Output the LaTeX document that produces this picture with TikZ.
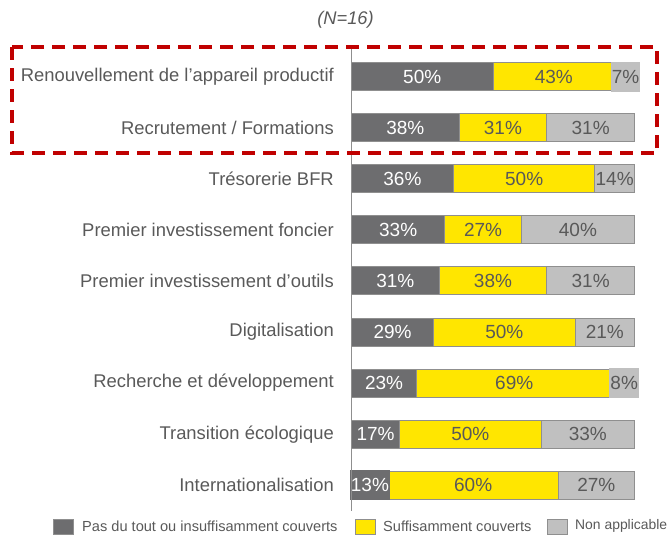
\documentclass[tikz,border=0pt]{standalone}
\usepackage{fontspec}
\setmainfont{Liberation Sans}
\definecolor{dk}{HTML}{6D6D6F}
\definecolor{ye}{HTML}{FFE600}
\definecolor{lg}{HTML}{C0C0C0}
\definecolor{bd}{HTML}{8F8F8F}
\definecolor{tx}{HTML}{595959}
\definecolor{rd}{HTML}{C00000}
\begin{document}
\begin{tikzpicture}[x=1pt,y=-1pt,
  seg/.style={draw=bd, line width=0.9pt, minimum height=28pt, inner sep=0pt, outer sep=0pt, anchor=west},
  lbl/.style={text=tx, font=\fontsize{18.4}{21}\selectfont, inner sep=0pt, anchor=east},
  pw/.style={text=white, font=\fontsize{19}{21}\selectfont, inner xsep=1pt, inner ysep=0pt},
  pg/.style={text=tx, font=\fontsize{19}{21}\selectfont, inner xsep=1pt, inner ysep=0pt},
  legsq/.style={draw=bd, line width=0.9pt, minimum width=20pt, minimum height=15pt, inner sep=0pt, anchor=west},
  legtx/.style={text=tx, font=\fontsize{14.6}{16}\selectfont, inner sep=0pt, anchor=west}]
\useasboundingbox (0,0) rectangle (669,536);
\node[text=tx, font=\fontsize{18.3}{21}\selectfont\itshape] (n) at (345.5,20) {(N=16)};
\coordinate (axt) at (351.5,48);
\coordinate (axb) at (351.5,511);
\foreach \i/\lab/\a/\b/\c in {
  1/{Renouvellement de l’appareil productif}/50/43/7,
  2/{Recrutement / Formations}/38/31/31,
  3/{Trésorerie BFR}/36/50/14,
  4/{Premier investissement foncier}/33/27/40,
  5/{Premier investissement d’outils}/31/38/31,
  6/{Digitalisation}/29/50/21,
  7/{Recherche et développement}/23/69/8,
  8/{Transition écologique}/17/50/33,
  9/{Internationalisation}/13/60/27}
{
  \pgfmathsetmacro{\yc}{76.5+(\i-1)*51.1}
  \pgfmathsetmacro{\wa}{2.83*\a}
  \pgfmathsetmacro{\wb}{2.83*\b}
  \pgfmathsetmacro{\wc}{2.83*\c}
  \node[lbl] (t\i) at (334,\yc) {\lab};
  \node[seg, fill=dk, minimum width=\wa pt] (d\i) at (351.5,\yc) {};
  \node[seg, fill=ye, minimum width=\wb pt] (y\i) at (d\i.east) {};
  \node[seg, fill=lg, minimum width=\wc pt] (g\i) at (y\i.east) {};
  \ifnum\i=9
    \node[pw, fill=dk, minimum height=30pt] (pd\i) at (d\i.center) {\a\%};
  \else
    \node[pw] (pd\i) at (d\i.center) {\a\%};
  \fi
  \node[pg] (py\i) at (y\i.center) {\b\%};
  \ifnum\i=1
    \node[pg, fill=lg, minimum height=30pt, xshift=1pt] (pg\i) at (g\i.center) {\c\%};
  \else\ifnum\i=7
    \node[pg, fill=lg, minimum height=30pt, xshift=1pt] (pg\i) at (g\i.center) {\c\%};
  \else
    \node[pg] (pg\i) at (g\i.center) {\c\%};
  \fi\fi
}
\draw[bd, line width=1.3pt] (axt) -- (axb);
\draw[rd, line width=3.5pt, dash pattern=on 13pt off 8pt] (12,47) rectangle (657,153);
\node[legsq, fill=dk] (ld) at (53,526.5) {};
\node[legtx] (ldt) at (82,526) {Pas du tout ou insuffisamment couverts};
\node[legsq, fill=ye] (ly) at (354.5,526.5) {};
\node[legtx] (lyt) at (383,526) {Suffisamment couverts};
\node[legsq, fill=lg] (lg) at (547,526.5) {};
\node[legtx, font=\fontsize{13.9}{16}\selectfont] (lgt) at (575,526) {Non applicable};
\end{tikzpicture}
\end{document}
